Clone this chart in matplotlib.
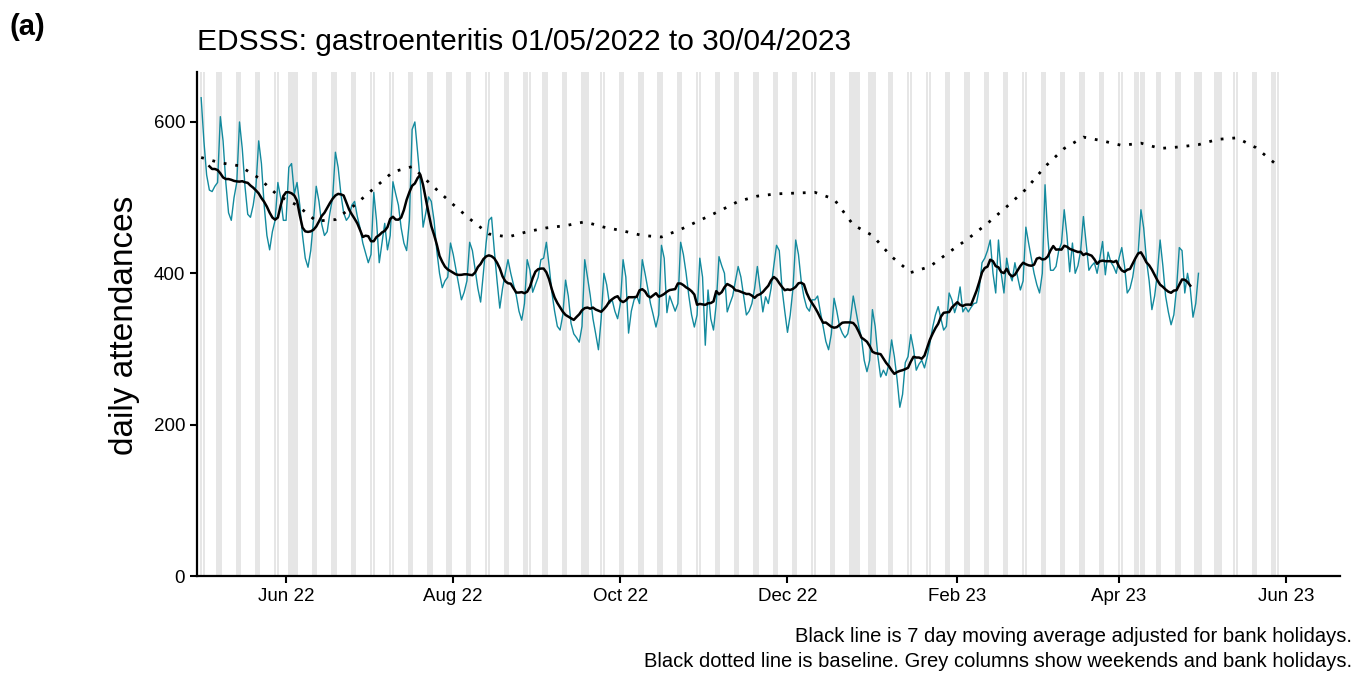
import matplotlib
matplotlib.use("Agg")
import matplotlib.pyplot as plt
import matplotlib.dates as mdates
import numpy as np
import pandas as pd

plt.rcParams['font.family'] = ['Liberation Sans', 'DejaVu Sans']

# daily attendances, one row per week (Sun..Sat), starting Sun 01/05/2022
daily_counts = [
    632, 575, 530, 510, 508, 515, 520,
    607, 575, 520, 480, 470, 500, 520,
    600, 565, 515, 478, 474, 490, 515,
    575, 545, 490, 450, 431, 455, 470,
    520, 500, 470, 470, 540, 545, 505,
    520, 490, 450, 420, 408, 430, 470,
    515, 495, 465, 450, 455, 480, 500,
    560, 540, 505, 480, 470, 475, 490,
    495, 475, 460, 440, 427, 414, 425,
    507, 470, 414, 440, 466, 431, 450,
    521, 505, 490, 460, 440, 430, 470,
    590, 600, 560, 520, 461, 480, 501,
    495, 470, 430, 400, 381, 390, 395,
    440, 425, 405, 385, 365, 375, 390,
    441, 430, 405, 380, 362, 400, 440,
    470, 474, 430, 390, 354, 380, 400,
    418, 400, 385, 371, 350, 338, 360,
    418, 404, 375, 385, 395, 418, 420,
    441, 410, 375, 350, 330, 325, 345,
    391, 370, 334, 320, 315, 309, 330,
    418, 395, 371, 340, 320, 299, 340,
    400, 385, 360, 365, 350, 340, 360,
    418, 395, 321, 350, 365, 370, 360,
    418, 400, 380, 360, 345, 329, 345,
    437, 420, 348, 370, 360, 350, 360,
    441, 425, 400, 370, 345, 329, 345,
    420, 395, 305, 378, 340, 325, 360,
    422, 410, 400, 349, 360, 370, 390,
    409, 395, 370, 345, 350, 360, 380,
    409, 380, 349, 369, 360, 380, 410,
    437, 430, 380, 350, 322, 345, 380,
    444, 425, 390, 369, 355, 350, 365,
    365, 370, 349, 330, 310, 299, 320,
    367, 350, 330, 321, 315, 320, 340,
    370, 350, 330, 315, 285, 270, 285,
    352, 330, 290, 263, 272, 265, 280,
    312, 290, 260, 223, 240, 282, 290,
    319, 300, 272, 280, 285, 275, 290,
    308, 329, 345, 356, 340, 325, 330,
    374, 365, 348, 360, 382, 349, 355,
    349, 355, 360, 361, 380, 414, 420,
    430, 444, 400, 374, 444, 400, 374,
    420, 400, 390, 414, 395, 378, 390,
    461, 440, 420, 400, 385, 374, 400,
    517, 448, 404, 404, 409, 430, 440,
    484, 450, 402, 440, 400, 410, 430,
    475, 440, 404, 410, 414, 400, 420,
    442, 398, 428, 415, 409, 400, 420,
    434, 410, 374, 380, 395, 420, 427,
    484, 460, 418, 390, 352, 370, 400,
    444, 410, 370, 349, 332, 345, 380,
    434, 430, 374, 400, 380, 342, 360,
    400,
]

# baseline, weekly from 01/05/2022
baseline_vals = [
    553, 546, 542, 526, 503, 490, 469, 471, 490, 512,
    534, 541, 517, 494, 472, 452, 448, 455, 460, 463,
    468, 461, 456, 450, 448, 458, 470, 482, 495, 502,
    505, 506, 507, 498, 464, 450, 422, 401, 409, 428,
    446, 466, 488, 511, 541, 565, 580, 575, 569, 572,
    565, 567, 570, 577, 579, 566, 545,
]

bank_holidays = ["2022-05-02", "2022-06-02", "2022-06-03", "2022-08-29",
                 "2022-09-19", "2022-12-26", "2022-12-27", "2023-01-02",
                 "2023-04-07", "2023-04-10", "2023-05-01", "2023-05-08",
                 "2023-05-29"]

dates = pd.date_range("2022-05-01", periods=len(daily_counts), freq="D")
counts = pd.Series(daily_counts, index=dates)
ma7 = counts.rolling(7, center=True).mean()
base_dates = pd.date_range("2022-05-01", periods=len(baseline_vals), freq="7D")

all_days = pd.date_range("2022-05-01", "2023-05-29", freq="D")
bh = pd.to_datetime(bank_holidays)
grey_days = [d for d in all_days if d.weekday() >= 5 or d in bh]

fig = plt.figure(figsize=(13.57, 6.78), dpi=100)
ax = fig.add_axes([0.1452, 0.1504, 0.8423, 0.7434])

for d in grey_days:
    ax.axvspan(d - pd.Timedelta(hours=11), d + pd.Timedelta(hours=11),
               color='#e6e6e6', lw=0, zorder=0)

ax.plot(dates, counts.values, color='#138a9e', lw=1.0, zorder=2)
ax.plot(dates, ma7.values, color='black', lw=1.8, zorder=3)
ax.plot(base_dates, baseline_vals, color='black', lw=2.0,
        linestyle=(0, (1, 3.2)), zorder=3)

ax.set_ylim(0, 666)
ax.set_yticks([0, 200, 400, 600])
ax.set_xlim(pd.Timestamp("2022-04-29 12:00"), pd.Timestamp("2023-06-20 16:00"))
ax.xaxis.set_major_locator(mdates.MonthLocator(bymonth=[2, 4, 6, 8, 10, 12]))
ax.xaxis.set_major_formatter(mdates.DateFormatter('%b %y'))

for s in ['top', 'right']:
    ax.spines[s].set_visible(False)
for s in ['left', 'bottom']:
    ax.spines[s].set_linewidth(1.6)
ax.tick_params(axis='both', length=5, width=1.5, labelsize=13.5, colors='black')

fig.text(0.092, 0.52, 'daily attendances', fontsize=24, rotation=90,
         ha='center', va='center')
fig.text(0.145, 0.938, 'EDSSS: gastroenteritis 01/05/2022 to 30/04/2023',
         fontsize=21.5, ha='left', va='center')
fig.text(0.007, 0.96, '(a)', fontsize=21, fontweight='bold', ha='left', va='center')
fig.text(0.9963, 0.0605, 'Black line is 7 day moving average adjusted for bank holidays.',
         fontsize=14.5, ha='right', va='center')
fig.text(0.9963, 0.0236, 'Black dotted line is baseline. Grey columns show weekends and bank holidays.',
         fontsize=14.5, ha='right', va='center')

fig.savefig('out.png', dpi=100)
